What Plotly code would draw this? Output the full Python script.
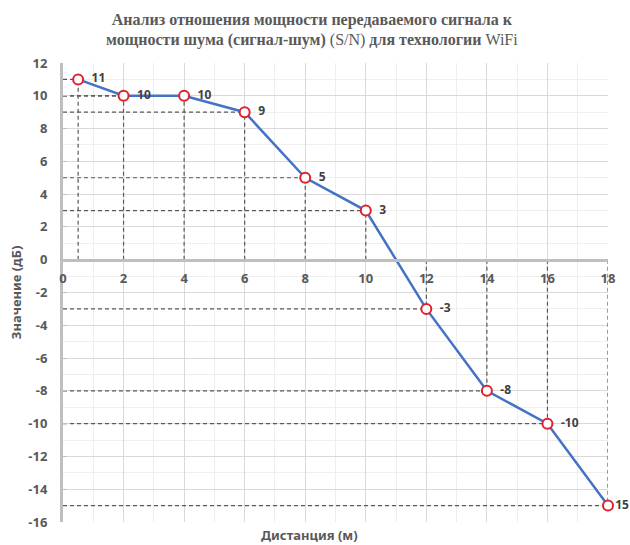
import plotly.graph_objects as go

distance = [0.5, 2, 4, 6, 8, 10, 12, 14, 16, 18]
snr = [11, 10, 10, 9, 5, 3, -3, -8, -10, -15]
point_labels = ["11", "10", "10", "9", "5", "3", "-3", "-8", "-10", "15"]
x_ticks = [0, 2, 4, 6, 8, 10, 12, 14, 16, 18]
y_ticks = [12, 10, 8, 6, 4, 2, 0, -2, -4, -6, -8, -10, -12, -14, -16]

x_min, x_max = 0, 18
y_min, y_max = -16, 12

# label padding: the last label sits tight against its marker
shown_labels = ["  " + t for t in point_labels[:-1]] + [point_labels[-1]]

# dashed guide lines from each point to the axes
hx, hy, vx, vy = [], [], [], []
for xv, yv in zip(distance, snr):
    hx += [x_min, xv, None]
    hy += [yv, yv, None]
    vx += [xv, xv, None]
    vy += [0, yv, None]

fig = go.Figure()
fig.add_trace(go.Scatter(x=hx, y=hy, mode="lines",
                         line=dict(color="#595959", width=1.2, dash="4px,3px"),
                         hoverinfo="skip", showlegend=False))
fig.add_trace(go.Scatter(x=vx, y=vy, mode="lines",
                         line=dict(color="#595959", width=1.2, dash="4px,3px"),
                         hoverinfo="skip", showlegend=False))
fig.add_trace(go.Scatter(
    x=distance, y=snr, mode="lines+markers+text",
    text=shown_labels, textposition="middle right",
    textfont=dict(family="Noto Sans", size=12, color="#404040", weight="bold"),
    line=dict(color="#4472c4", width=2.5),
    marker=dict(symbol="circle", size=10, color="white",
                line=dict(color="#e0202a", width=2)),
    showlegend=False, cliponaxis=False))

tickfont = dict(family="Noto Sans", size=13, color="#595959", weight="bold")

fig.update_layout(
    width=630, height=545,
    margin=dict(l=63, r=22, t=63, b=23),
    paper_bgcolor="white", plot_bgcolor="white",
    title=dict(
        text="<b>Анализ отношения мощности передаваемого сигнала к</b><br>"
             "<b>мощности шума (сигнал-шум)</b> (S/N) <b>для технологии</b> WiFi",
        x=0.495, xanchor="center", y=0.955, yanchor="top",
        font=dict(family="Liberation Serif", size=16, color="#595959")),
    xaxis=dict(range=[x_min, x_max], tickvals=x_ticks,
               ticktext=[str(v) for v in x_ticks], tickfont=tickfont,
               anchor="free", position=(0 - y_min) / (y_max - y_min),
               showline=True, linecolor="#bfbfbf", linewidth=3,
               showgrid=True, gridcolor="#d9d9d9", gridwidth=1,
               minor=dict(dtick=1, showgrid=True, gridcolor="#eeeeee"),
               zeroline=False, ticks="", ticklen=0, ticklabelstandoff=6),
    yaxis=dict(range=[y_min, y_max], tickvals=y_ticks,
               ticktext=[str(v) for v in y_ticks], tickfont=tickfont,
               showline=True, linecolor="#bfbfbf", linewidth=3,
               showgrid=True, gridcolor="#d9d9d9", gridwidth=1,
               minor=dict(dtick=1, showgrid=True, gridcolor="#eeeeee"),
               zeroline=False, ticks="inside", ticklen=4, tickcolor="#bfbfbf",
               ticklabelstandoff=10,
               title=dict(text="Значение (дБ)", standoff=4,
                          font=dict(family="Noto Sans", size=13, color="#595959",
                                    weight="bold"))),
    annotations=[dict(text="Дистанция (м)", xref="paper", yref="paper",
                      x=0.453, y=-0.028, xanchor="center", yanchor="middle",
                      showarrow=False,
                      font=dict(family="Noto Sans", size=13, color="#595959",
                                weight="bold"))],
)

fig.write_html("out.html")
